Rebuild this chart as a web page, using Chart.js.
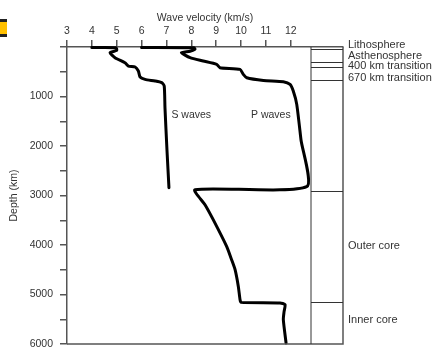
<!DOCTYPE html>
<html lang="en">
<head>
<meta charset="UTF-8">
<title>Wave velocity vs depth</title>
<script src="https://cdn.jsdelivr.net/npm/chart.js"></script>
<style>
  body { margin: 0; background: #fff; }
  .wrap { position: relative; width: 436px; height: 347px; }
  .tab {
    position: absolute; left: 0; top: 19px; width: 7px; height: 12px;
    background: #ffc000; border-top: 3px solid #222; border-bottom: 3px solid #222;
  }
</style>
</head>
<body>
<div class="wrap">
  <canvas id="graphique" width="436" height="347"></canvas>
  <div class="tab"></div>
</div>

<script>
// vitesses (km/s) et profondeurs (km)
const sVitesse = [4.0, 4.97, 5.0, 4.73, 4.93, 5.33, 5.47, 5.74, 5.87, 5.94, 6.14, 6.54, 6.81, 6.91, 6.94, 7.02, 7.10];
const sProf    = [10, 14, 69, 115, 216, 317, 384, 404, 485, 606, 654, 687, 721, 788, 1226, 2075, 2842];

const pVitesse = [6.0, 8.1, 8.15, 7.95, 7.6, 7.95, 8.48, 9.02, 9.15, 9.96, 10.09, 10.23, 10.90, 11.70, 11.97, 12.10, 12.24, 12.41, 12.64,
                  8.15, 8.55, 8.88, 9.42, 9.62, 9.76, 9.89, 9.96, 10.0, 11.57, 11.77, 11.73, 11.70, 11.81];
const pProf    = [10, 15, 45, 85, 112, 216, 283, 351, 418, 452, 553, 620, 675, 701, 755, 889, 1159, 1873, 2822,
                  2882, 3186, 3488, 4028, 4297, 4499, 4836, 5105, 5159, 5171, 5205, 5347, 5508, 5979];

const xTicks = [3, 4, 5, 6, 7, 8, 9, 10, 11, 12];
const yTicks = [0, 500, 1000, 1500, 2000, 2500, 3000, 3500, 4000, 4500, 5000, 5500, 6000];

// limites des couches (km) et libellés de la colonne de droite
const limitesCouches = [45, 310, 400, 660, 2900, 5150];
const nomsCouches = ['Lithosphere', 'Asthenosphere', '400 km transition', '670 km transition', 'Outer core', 'Inner core'];
const profNoms = [-45, 175, 390, 620, 4028, 5510];

const nomsOndes = ['S waves', 'P waves'];
const posOndes = [[7.2, 1370], [10.4, 1370]];

const couleurAxe = '#555';
const couleurTexte = '#333';
const police = '"Liberation Sans", Arial, sans-serif';

function points(xs, ys) {
  return xs.map((v, i) => ({ x: v, y: ys[i] }));
}

function sansMarge(s) {
  s.paddingTop = 0; s.paddingBottom = 0; s.paddingLeft = 0; s.paddingRight = 0;
}

const colonne = {
  id: 'colonne',
  afterDraw(chart) {
    const { ctx, chartArea: a, scales } = chart;
    const y = scales.y, x = scales.x;
    const gauche = a.right - 32;
    ctx.save();
    // bas et droite du cadre
    ctx.strokeStyle = couleurAxe;
    ctx.lineWidth = 1.5;
    ctx.beginPath();
    ctx.moveTo(a.left, a.bottom); ctx.lineTo(a.right, a.bottom); ctx.lineTo(a.right, a.top);
    ctx.stroke();
    // colonne des couches
    ctx.strokeStyle = '#333';
    ctx.lineWidth = 1;
    ctx.beginPath();
    ctx.moveTo(gauche, a.top); ctx.lineTo(gauche, a.bottom);
    limitesCouches.forEach(d => {
      const py = Math.round(y.getPixelForValue(d)) + 0.5;
      ctx.moveTo(gauche, py); ctx.lineTo(a.right, py);
    });
    ctx.stroke();
    ctx.font = '11px ' + police;
    ctx.fillStyle = couleurTexte;
    ctx.textBaseline = 'middle';
    ctx.textAlign = 'left';
    nomsCouches.forEach((n, i) => ctx.fillText(n, a.right + 5, y.getPixelForValue(profNoms[i])));
    ctx.font = '10.5px ' + police;
    nomsOndes.forEach((n, i) => ctx.fillText(n, x.getPixelForValue(posOndes[i][0]), y.getPixelForValue(posOndes[i][1])));
    ctx.restore();
  }
};

new Chart(document.getElementById('graphique'), {
  type: 'scatter',
  data: {
    datasets: [
      { label: 'S waves', data: points(sVitesse, sProf) },
      { label: 'P waves', data: points(pVitesse, pProf) }
    ]
  },
  options: {
    responsive: false,
    animation: false,
    layout: { padding: { left: 0, top: 0, right: 93, bottom: 3 } },
    elements: {
      line: { borderColor: '#000', borderWidth: 3, tension: 0.2, borderJoinStyle: 'round', borderCapStyle: 'round' },
      point: { radius: 0 }
    },
    datasets: { scatter: { showLine: true, clip: false } },
    plugins: { legend: { display: false }, tooltip: { enabled: false } },
    scales: {
      x: {
        type: 'linear',
        position: 'top',
        min: 3,
        max: 14.1,
        afterBuildTicks: s => { s.ticks = xTicks.map(v => ({ value: v })); },
        afterFit: s => { s.height = 47; sansMarge(s); },
        ticks: { color: couleurTexte, font: { family: police, size: 10.5 }, padding: 3, maxRotation: 0 },
        grid: { drawOnChartArea: false, tickLength: 7, color: couleurAxe, lineWidth: 1.5 },
        border: { color: couleurAxe, width: 1.5 },
        title: { display: true, text: 'Wave velocity (km/s)', color: couleurTexte, font: { family: police, size: 10.5 }, padding: { top: 12, bottom: 0 } }
      },
      y: {
        type: 'linear',
        position: 'left',
        reverse: true,
        min: 0,
        max: 6000,
        afterBuildTicks: s => { s.ticks = yTicks.map(v => ({ value: v })); },
        afterFit: s => { s.width = 67; sansMarge(s); },
        ticks: {
          color: couleurTexte, font: { family: police, size: 10.5 }, padding: 7,
          callback: v => (v > 0 && v % 1000 === 0) ? String(v) : ''
        },
        grid: { drawOnChartArea: false, tickLength: 7, color: couleurAxe, lineWidth: 1.5 },
        border: { color: couleurAxe, width: 1.5 },
        title: { display: true, text: 'Depth (km)', color: couleurTexte, font: { family: police, size: 10.5 }, padding: { top: 8, bottom: 0 } }
      }
    }
  },
  plugins: [colonne]
});
</script>
</body>
</html>
